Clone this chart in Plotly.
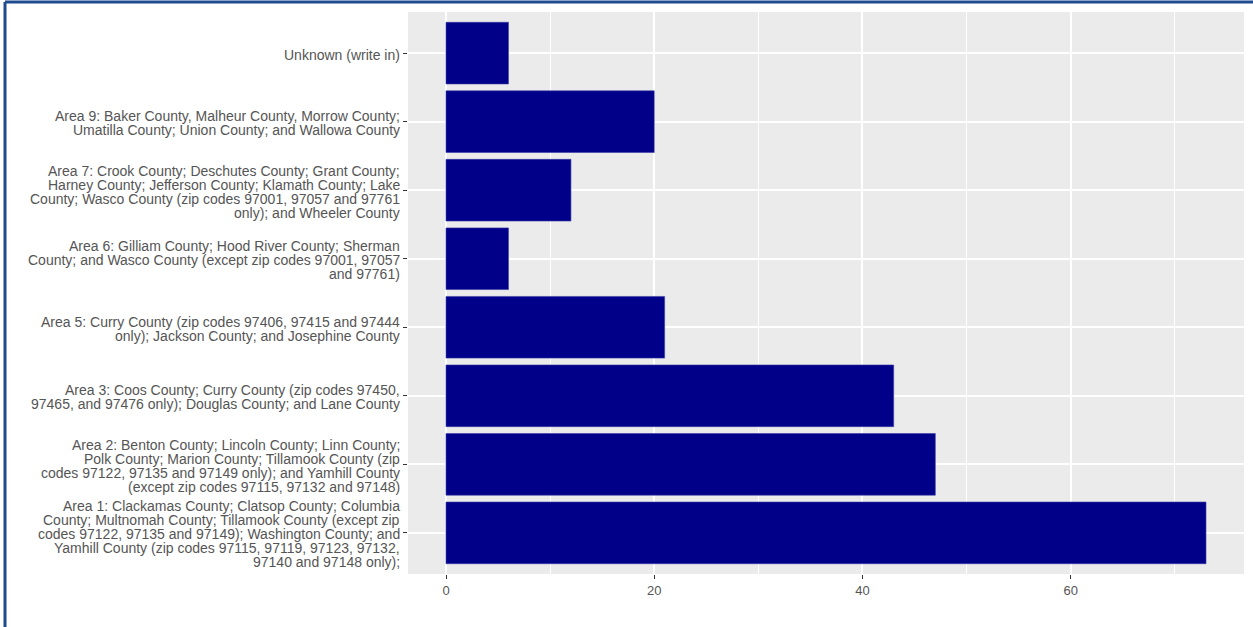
import plotly.graph_objects as go

# Data (bottom to top)
categories = [
    "Area 1: Clackamas County; Clatsop County; Columbia<br>County; Multnomah County; Tillamook County (except zip<br>codes 97122, 97135 and 97149); Washington County; and<br>Yamhill County (zip codes 97115, 97119, 97123, 97132,<br>97140 and 97148 only);",
    "Area 2: Benton County; Lincoln County; Linn County;<br>Polk County; Marion County; Tillamook County (zip<br>codes 97122, 97135 and 97149 only); and Yamhill County<br>(except zip codes 97115, 97132 and 97148)",
    "Area 3: Coos County; Curry County (zip codes 97450,<br>97465, and 97476 only); Douglas County; and Lane County",
    "Area 5: Curry County (zip codes 97406, 97415 and 97444<br>only); Jackson County; and Josephine County",
    "Area 6: Gilliam County; Hood River County; Sherman<br>County; and Wasco County (except zip codes 97001, 97057<br>and 97761)",
    "Area 7: Crook County; Deschutes County; Grant County;<br>Harney County; Jefferson County; Klamath County; Lake<br>County; Wasco County (zip codes 97001, 97057 and 97761<br>only); and Wheeler County",
    "Area 9: Baker County, Malheur County, Morrow County;<br>Umatilla County; Union County; and Wallowa County",
    "Unknown (write in)",
]
counts = [73, 47, 43, 21, 6, 12, 20, 6]
x_ticks = [0, 20, 40, 60]

W, H = 1253, 627
ML, MR, MT, MB = 408, 9, 12, 53
FONT = "Liberation Sans, Arial, sans-serif"
TXT = "#555555"
LINE_H = 14

positions = list(range(1, len(categories) + 1))

fig = go.Figure(
    go.Bar(
        x=counts,
        y=positions,
        orientation="h",
        width=0.9,
        marker=dict(color="#000088", line=dict(color="#3A3AA8", width=0.6)),
        hoverinfo="skip",
    )
)

xmax = max(counts)
pad = 0.05 * xmax

fig.update_layout(
    width=W,
    height=H,
    margin=dict(l=ML, r=MR, t=MT, b=MB, autoexpand=False),
    paper_bgcolor="white",
    plot_bgcolor="#EBEBEB",
    showlegend=False,
    font=dict(family=FONT, size=13, color=TXT),
    xaxis=dict(
        range=[-pad, xmax + pad],
        tickmode="array",
        tickvals=x_ticks,
        ticktext=[str(v) for v in x_ticks],
        showgrid=True,
        gridcolor="white",
        gridwidth=1.6,
        ticks="outside",
        ticklen=4,
        tickwidth=1,
        tickcolor="#333333",
        tickfont=dict(size=13, color=TXT),
        zeroline=False,
        showline=False,
        minor=dict(tickmode="array", tickvals=[10, 30, 50, 70], showgrid=True,
                   gridcolor="white", gridwidth=0.8),
    ),
    yaxis=dict(
        range=[0.4, len(categories) + 0.6],
        tickmode="array",
        tickvals=positions,
        showticklabels=False,
        showgrid=True,
        gridcolor="white",
        gridwidth=1.6,
        ticks="outside",
        ticklen=4,
        tickwidth=1,
        tickcolor="#333333",
        zeroline=False,
        showline=False,
    ),
)

# category labels, one line at a time (tight ggplot-like line spacing)
for pos, label in zip(positions, categories):
    lines = label.split("<br>")
    n = len(lines)
    for i, line in enumerate(lines):
        offset = (i - (n - 1) / 2) * LINE_H + 1.5
        fig.add_annotation(
            x=0, xref="paper", xanchor="right", xshift=-7,
            y=pos, yref="y", yanchor="middle", yshift=-offset,
            text=line, showarrow=False,
            font=dict(family=FONT, size=14, color=TXT),
            borderpad=0,
        )

# decorative frame (left and top edges as in the reference screenshot)
pw = W - ML - MR
ph = H - MT - MB
xl = (5 - ML) / pw
xr = (W + 5 - ML) / pw
yt = (H - MB - 2) / ph
yb = (H - MB - H - 5) / ph
fig.add_shape(type="line", xref="paper", yref="paper", x0=xl, x1=xl, y0=yb, y1=yt,
              line=dict(color="#1F4A8E", width=3))
fig.add_shape(type="line", xref="paper", yref="paper", x0=xl, x1=xr, y0=yt, y1=yt,
              line=dict(color="#1F4A8E", width=3))

fig.write_html(
    "out.html",
    config={"displayModeBar": False},
    post_script="document.body.style.margin='0';document.body.style.overflow='hidden';",
)
